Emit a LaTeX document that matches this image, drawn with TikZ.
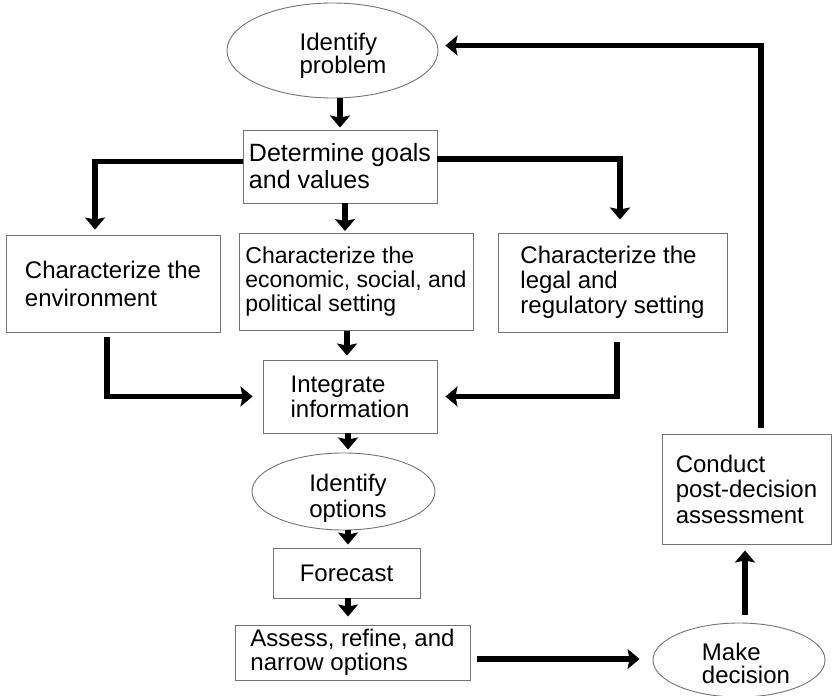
\documentclass[tikz,border=0pt]{standalone}
\usepackage{fontspec}
\setmainfont{Liberation Sans}
\usetikzlibrary{shapes.geometric,arrows.meta,calc}
\newcommand\fs[1]{\fontsize{24}{#1}\selectfont}
\begin{document}
\begin{tikzpicture}[x=1pt,y=-1pt,
  every node/.style={font=\fs{25}, inner sep=0pt},
  stepbox/.style={draw=black!55, line width=0.9pt, rectangle, align=left},
  oval/.style={draw=black!55, line width=0.9pt, ellipse},
  ovaltext/.style={align=left},
  flow/.style={line width=5.5pt, -{Stealth[length=12pt,width=20pt,inset=2pt]}},
]
\useasboundingbox (0,0) rectangle (833,696);

% process steps
\node[oval, minimum width=211, minimum height=95] (problem) at (332.5,50.5) {};
\node[ovaltext, font=\fs{23}] (problem-t) at (343,55.5) {Identify\\problem};
\node[stepbox, minimum width=194, minimum height=73, font=\fontsize{25}{27}\selectfont] (goals) at (340,166.5) {Determine goals\\and values};
\node[stepbox, minimum width=214, minimum height=97, font=\fs{28}] (env) at (113,283.5) {Characterize the\\environment};
\node[stepbox, minimum width=234, minimum height=97, font=\fontsize{23}{24}\selectfont] (econ) at (356,282) {Characterize the\\economic, social, and\\political setting};
\node[stepbox, minimum width=229, minimum height=99] (legal) at (612.5,282.5) {Characterize the\\legal and\\regulatory setting};
\node[stepbox, minimum width=174, minimum height=73] (integ) at (350,396.5) {Integrate\\information};
\node[oval, minimum width=183, minimum height=77] (options) at (343.5,491.5) {};
\node[ovaltext, font=\fs{26}] (options-t) at (348,498) {Identify\\options};
\node[stepbox, minimum width=147, minimum height=50] (forecast) at (346.5,573) {Forecast};
\node[stepbox, minimum width=235, minimum height=55, font=\fs{23.5}] (assess) at (352.5,652.5) {Assess, refine, and\\narrow options};
\node[oval, minimum width=172, minimum height=74] (decision) at (739,660) {};
\node[ovaltext, font=\fs{23}] (decision-t) at (746,663) {Make\\decision};
\node[stepbox, minimum width=169, minimum height=110, font=\fs{25.5}] (conduct) at (746.5,489) {Conduct\\post-decision\\assessment};

% connectors
\draw[flow, shorten >=2pt] (goals.north |- problem.south) -- (goals.north);
\draw[flow, shorten >=5pt] ([yshift=5]goals.west) -| ([xshift=-18]env.north);
\draw[flow, shorten >=2pt] ([xshift=5]goals.south) -- ([xshift=5]goals.south |- econ.north);
\draw[flow, shorten >=13pt] ([yshift=7.5]goals.east) -| ([xshift=7.5]legal.north);
\draw[flow, shorten >=4pt] ([xshift=-3]integ.north |- econ.south) -- ([xshift=-3]integ.north);
\draw[flow, shorten <=5pt, shorten >=10pt] ([xshift=-6]env.south) |- (integ.west);
\draw[flow, shorten <=10pt, shorten >=8pt] ([xshift=4.5]legal.south) |- (integ.east);
\draw[flow, shorten >=3pt] ([xshift=-2]integ.south) -- ([xshift=-2]integ.south |- options.north);
\draw[flow, shorten >=3pt] ([xshift=1.5]forecast.north |- options.south) -- ([xshift=1.5]forecast.north);
\draw[flow, shorten >=8pt] ([xshift=1.5]forecast.south) -- ([xshift=1.5]forecast.south |- assess.north);
\draw[flow, shorten <=7pt, shorten >=13pt] ([yshift=-6.5]assess.east) -- ([yshift=-6.5]assess.east -| decision.west);
\draw[flow, shorten <=8pt, shorten >=6pt] ([xshift=6]decision.north) -- ([xshift=6]decision.north |- conduct.south);
\draw[flow, shorten <=6pt, shorten >=7pt] ([xshift=14.5]conduct.north) |- ([yshift=5]problem.east);
\end{tikzpicture}
\end{document}
